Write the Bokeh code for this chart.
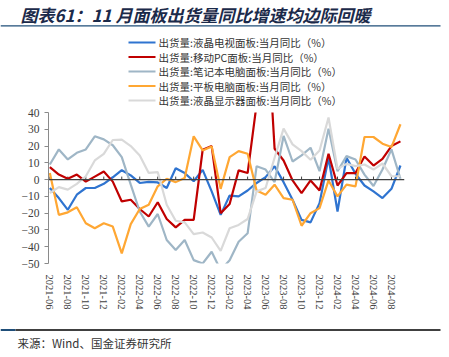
import math
from bokeh.plotting import figure
from bokeh.layouts import column
from bokeh.models import Range1d, FixedTicker, Span, ColumnDataSource
from bokeh.core.properties import value
from bokeh.embed import file_html
from bokeh.resources import INLINE

months = ["2021-06", "2021-07", "2021-08", "2021-09", "2021-10", "2021-11", "2021-12",
          "2022-01", "2022-02", "2022-03", "2022-04", "2022-05", "2022-06", "2022-07",
          "2022-08", "2022-09", "2022-10", "2022-11", "2022-12", "2023-01", "2023-02",
          "2023-03", "2023-04", "2023-05", "2023-06", "2023-07", "2023-08", "2023-09",
          "2023-10", "2023-11", "2023-12", "2024-01", "2024-02", "2024-03", "2024-04",
          "2024-05", "2024-06", "2024-07", "2024-08", "2024-09"]

tv = [-5, -11, -18, -9, -5, -5, -2.5, 1.4, 5.6, 2.5, -2, -1.3, -1.7, -5, 6.8, 3.9, -1, 5.8,
      -7, -21, -9.5, -10, -6.5, -2, 1.5, 8, -1.5, -12, -24, -25.5, -14, 13, -19, 13, 3.5,
      -3.5, -7, -11, -5.5, 8.4]
mobile_pc = [7.4, 3, 0.5, 3, -1.2, 1.8, 4.8, -1.2, -13, -12, -17.5, -22, -13.5, -23.5,
             -28.5, -24, -24, 17.8, 20, -20, -14.5, 5.5, 3.9, 45, 110, 18.4, 11.4, -0.5,
             -8, -0.5, -6.5, 15.4, -3.5, 3.9, 3.9, 13.8, 8.4, 12.4, 20, 22.8]
notebook = [9, 18, 12, 16, 18, 25.8, 24, 20.5, 13.4, -3, -19, -28, -20.5, -36, -42, -36,
            -48, -50, -43, -54, -48, -37, -32, 8, 6, -1.5, 26, 10.8, 14.4, 19, 5, 30.4, 5,
            14, 12, 3, -3.8, 6, 18, 0.5]
tablet = [4, -21, -19.5, -16.5, -26, -29, -26, -28, -44, -26.5, -17.5, -15, -4, 0.5, -1.5,
          1, 25.8, 17.4, 19.8, -5.5, 13.4, 17, 15.4, -6.5, -9, -3, -11, -12, -27.5, -20,
          -17, -0.5, -10, -3, -4, 25.4, 25.4, 21.4, 19.4, 33]
monitor = [-8, -4.5, -6, -2.5, 2, 11.4, 15.4, 23.6, 23.8, 20, 14.4, 4, 4.5, -15, -24.5,
           -25.5, -32.5, -31.5, -34.5, -42.5, -29, -27, -23.5, -7, -5, 13, 30.4, 21, 17,
           11.8, 17.4, 37, 6.4, 9.4, 8, 9, 6, 9.6, 2, 2]

series_names = ["出货量:液晶电视面板:当月同比（%）", "出货量:移动PC面板:当月同比（%）",
                "出货量:笔记本电脑面板:当月同比（%）", "出货量:平板电脑面板:当月同比（%）",
                "出货量:液晶显示器面板:当月同比（%）"]
series_colors = ["#2F74D0", "#C00000", "#9FB6C6", "#FFA733", "#D9D9D9"]
y_ticks = [-50, -40, -30, -20, -10, 0, 10, 20, 30, 40]

title_text = "图表61：11 月面板出货量同比增速均边际回暖"
source_text = "来源：Wind、国金证券研究所"

W = 449
CJK = "Noto Sans CJK SC"


def blank(h):
    f = figure(width=W, height=h, output_backend="svg", toolbar_location=None,
               x_range=Range1d(0, W), y_range=Range1d(h, 0),
               x_axis_type=None, y_axis_type=None, frame_align=False,
               min_border=0, min_border_left=0, min_border_right=0,
               min_border_top=0, min_border_bottom=0)
    f.outline_line_color = None
    f.xgrid.visible = False
    f.ygrid.visible = False
    return f


# ---------- header: title, rule, legend ----------
HEAD_H = 108
head = blank(HEAD_H)
head.text(x=[20], y=[13.5], text=[title_text], text_font=value(CJK),
          text_font_style="bold italic", text_font_size=value("17px"),
          text_color="#1B2A4A", text_baseline="middle", text_align="left")
head.segment(x0=[0], y0=[25.3], x1=[440], y1=[25.3], line_color="#1F4E79", line_width=1.3)

row_y = [42.0 + 14.5 * k for k in range(len(series_names))]
head.segment(x0=[128] * len(row_y), y0=row_y, x1=[155] * len(row_y), y1=row_y,
             line_color=series_colors, line_width=2.2)
head.text(x=[158] * len(row_y), y=row_y, text=series_names, text_font=value(CJK),
          text_font_size=value("10.5px"), text_color="#333333",
          text_baseline="middle", text_align="left")

# ---------- main chart ----------
MAIN_H = 204
idx = list(range(len(months)))
src = ColumnDataSource(dict(x=idx, tv=tv, mpc=mobile_pc, nb=notebook, tab=tablet, mon=monitor))

p = figure(width=W, height=MAIN_H, output_backend="svg", toolbar_location=None,
           x_range=Range1d(-0.15, 39.45), y_range=Range1d(-50, 40), frame_align=False,
           min_border_left=48, min_border_right=45, min_border_top=4,
           min_border_bottom=49)
p.outline_line_color = None
p.xgrid.visible = False
p.ygrid.visible = False

p.add_layout(Span(location=0, dimension="width", line_color="#404040", line_width=1.2))

tick_idx = idx[::2]
p.segment(x0=tick_idx, y0=[0] * len(tick_idx), x1=tick_idx, y1=[1.8] * len(tick_idx),
          line_color="#404040", line_width=1)

for col, color in zip(["tv", "mpc", "nb", "tab", "mon"], series_colors):
    p.line("x", col, source=src, line_color=color, line_width=2.2)

xa = p.xaxis[0]
xa.ticker = FixedTicker(ticks=tick_idx)
xa.major_label_overrides = {i: months[i] for i in tick_idx}
xa.axis_line_color = None
xa.major_tick_line_color = None
xa.minor_tick_line_color = None
xa.major_label_orientation = -math.pi / 2
xa.major_label_standoff = 5
xa.major_label_text_font = "Liberation Serif"
xa.major_label_text_font_size = "10.5px"
xa.major_label_text_color = "#404040"

ya = p.yaxis[0]
ya.ticker = FixedTicker(ticks=y_ticks)
ya.axis_line_color = "#8a8a8a"
ya.major_tick_line_color = "#8a8a8a"
ya.major_tick_out = 4
ya.major_tick_in = 0
ya.minor_tick_line_color = None
ya.major_label_standoff = 5
ya.major_label_text_font = "Liberation Serif"
ya.major_label_text_font_size = "11.5px"
ya.major_label_text_color = "#404040"

# ---------- footer: rule, source ----------
FOOT_H = 357 - HEAD_H - MAIN_H
foot = blank(FOOT_H)
foot.segment(x0=[0, 15], y0=[17.5, 17.5], x1=[15, 440], y1=[17.5, 17.5],
             line_color=["#1F4E79", "#404040"], line_width=1.8)
foot.text(x=[17], y=[30], text=[source_text], text_font=value(CJK),
          text_font_size=value("11.5px"), text_color="#333333",
          text_baseline="middle", text_align="left")

layout = column(head, p, foot, spacing=0)
open("out.html", "w").write(file_html(layout, INLINE))
